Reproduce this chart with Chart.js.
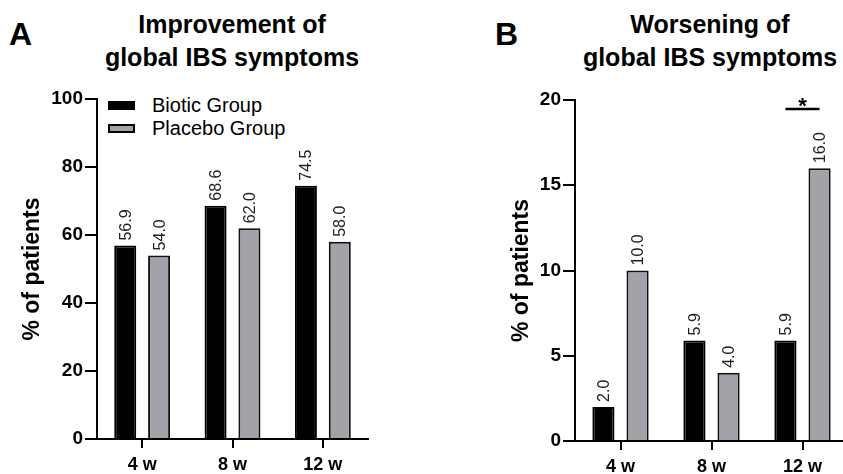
<!DOCTYPE html>
<html>
<head>
<meta charset="utf-8">
<script src="https://cdn.jsdelivr.net/npm/chart.js@4.4.1/dist/chart.umd.min.js"></script>
<style>
  html, body { margin: 0; padding: 0; background: #fff; overflow: hidden; width: 843px; height: 474px; }
  body { position: relative; font-family: "Liberation Sans", Arial, sans-serif; color: #000; }
  .abs { position: absolute; }
  .letter { font-size: 32px; font-weight: bold; line-height: 32px; }
  .title { font-size: 25px; font-weight: bold; line-height: 33px; text-align: center; width: 400px; }
  .leg { font-size: 20px; line-height: 22px; white-space: nowrap; }
  .legbox { position: absolute; width: 27px; height: 9px; box-sizing: border-box; border: 2px solid #000; }
</style>
</head>
<body>
<div class="abs letter" style="left:9px; top:18px;">A</div>
<div class="abs letter" style="left:495px; top:18px;">B</div>
<div class="abs title" style="left:32px; top:8px;">Improvement of<br>global IBS symptoms</div>
<div class="abs title" style="left:510px; top:8px;">Worsening of<br>global IBS symptoms</div>
<div id="legend" class="abs" style="left:108px; top:94px;"></div>
<canvas id="chartA" width="420" height="474" class="abs" style="left:0; top:0;"></canvas>
<canvas id="chartB" width="430" height="474" class="abs" style="left:420px; top:0;"></canvas>
<script>
// ---- data ----
const categories = ['4 w', '8 w', '12 w'];
const seriesNames = ['Biotic Group', 'Placebo Group'];
const seriesColors = ['#000000', '#a3a2a8'];
const improvementBiotic = [56.9, 68.6, 74.5];
const improvementPlacebo = [54.0, 62.0, 58.0];
const worseningBiotic = [2.0, 5.9, 5.9];
const worseningPlacebo = [10.0, 4.0, 16.0];
const improvementMax = 100, improvementStep = 20;
const worseningMax = 20, worseningStep = 5;
const yAxisTitle = '% of patients';
const significantCategory = '12 w';
const significanceMark = '*';

Chart.defaults.font.family = '"Liberation Sans", Arial, sans-serif';
Chart.defaults.color = '#000';
Chart.defaults.animation = false;

// legend (HTML, from the series arrays)
const legend = document.getElementById('legend');
seriesNames.forEach((name, i) => {
  const row = document.createElement('div');
  row.style.position = 'absolute';
  row.style.left = '0px';
  row.style.top = (i * 23) + 'px';
  const box = document.createElement('div');
  box.className = 'legbox';
  box.style.left = '0px';
  box.style.top = '7px';
  box.style.background = seriesColors[i];
  const txt = document.createElement('div');
  txt.className = 'leg';
  txt.style.position = 'absolute';
  txt.style.left = '44px';
  txt.style.top = '0px';
  txt.textContent = name;
  row.appendChild(box); row.appendChild(txt);
  legend.appendChild(row);
});

const valueLabels = {
  id: 'valueLabels',
  afterDatasetsDraw(chart) {
    const ctx = chart.ctx;
    ctx.save();
    ctx.font = '16px "Liberation Sans", Arial, sans-serif';
    ctx.fillStyle = '#222';
    ctx.textAlign = 'left';
    ctx.textBaseline = 'middle';
    chart.data.datasets.forEach((ds, di) => {
      chart.getDatasetMeta(di).data.forEach((bar, i) => {
        ctx.save();
        ctx.translate(bar.x + 1, bar.y - 5);
        ctx.rotate(-Math.PI / 2);
        ctx.fillText(ds.data[i].toFixed(1), 0, 0);
        ctx.restore();
      });
    });
    ctx.restore();
  }
};

const significance = {
  id: 'significance',
  afterDatasetsDraw(chart, args, opts) {
    if (!opts.category) return;
    const idx = chart.data.labels.indexOf(opts.category);
    const b0 = chart.getDatasetMeta(0).data[idx];
    const b1 = chart.getDatasetMeta(1).data[idx];
    const y = chart.chartArea.top + 9;
    const ctx = chart.ctx;
    ctx.save();
    ctx.strokeStyle = '#000';
    ctx.lineWidth = 2.5;
    ctx.beginPath();
    ctx.moveTo(b0.x, y);
    ctx.lineTo(b1.x, y);
    ctx.stroke();
    ctx.font = 'bold 22px "Liberation Sans", Arial, sans-serif';
    ctx.fillStyle = '#000';
    ctx.textAlign = 'center';
    ctx.textBaseline = 'alphabetic';
    ctx.fillText(opts.mark, (b0.x + b1.x) / 2, y + 4);
    ctx.restore();
  }
};

function makeChart(id, biotic, placebo, max, step, geom, sig) {
  return new Chart(document.getElementById(id), {
    type: 'bar',
    data: {
      labels: categories,
      datasets: [
        { label: seriesNames[0], data: biotic, backgroundColor: seriesColors[0], borderColor: '#000', borderWidth: 2 },
        { label: seriesNames[1], data: placebo, backgroundColor: seriesColors[1], borderColor: '#111', borderWidth: 2 }
      ]
    },
    options: {
      responsive: false,
      devicePixelRatio: 1,
      categoryPercentage: 0.75,
      barPercentage: 0.65,
      layout: { padding: { top: geom.top, left: geom.left, right: geom.right, bottom: 0 } },
      plugins: {
        legend: { display: false },
        tooltip: { enabled: false },
        significance: sig || {}
      },
      scales: {
        x: {
          offset: true,
          afterFit(s) { s.height = geom.xHeight; },
          grid: { offset: false, drawOnChartArea: false, drawTicks: true, tickLength: 9, color: '#000', lineWidth: 2 },
          border: { color: '#000', width: 2 },
          ticks: { font: { size: 18, weight: 'bold' }, color: '#000', padding: 6, maxRotation: 0 }
        },
        y: {
          min: 0, max: max,
          afterFit(s) { s.width = geom.yWidth; },
          grid: { drawOnChartArea: false, drawTicks: true, tickLength: 12, color: '#000', lineWidth: 2 },
          border: { color: '#000', width: 2 },
          ticks: { stepSize: step, font: { size: 19, weight: 'bold' }, color: '#000', padding: 2 },
          title: { display: true, text: yAxisTitle, font: { size: 23, weight: 'bold' }, color: '#000', padding: 0 }
        }
      }
    },
    plugins: [valueLabels, significance]
  });
}

makeChart('chartA', improvementBiotic, improvementPlacebo, improvementMax, improvementStep,
  { top: 99, left: 19, right: 52, yWidth: 78, xHeight: 35 }, null);
makeChart('chartB', worseningBiotic, worseningPlacebo, worseningMax, worseningStep,
  { top: 100, left: 88, right: 2, yWidth: 67, xHeight: 33 }, { category: significantCategory, mark: significanceMark });
</script>
</body>
</html>
